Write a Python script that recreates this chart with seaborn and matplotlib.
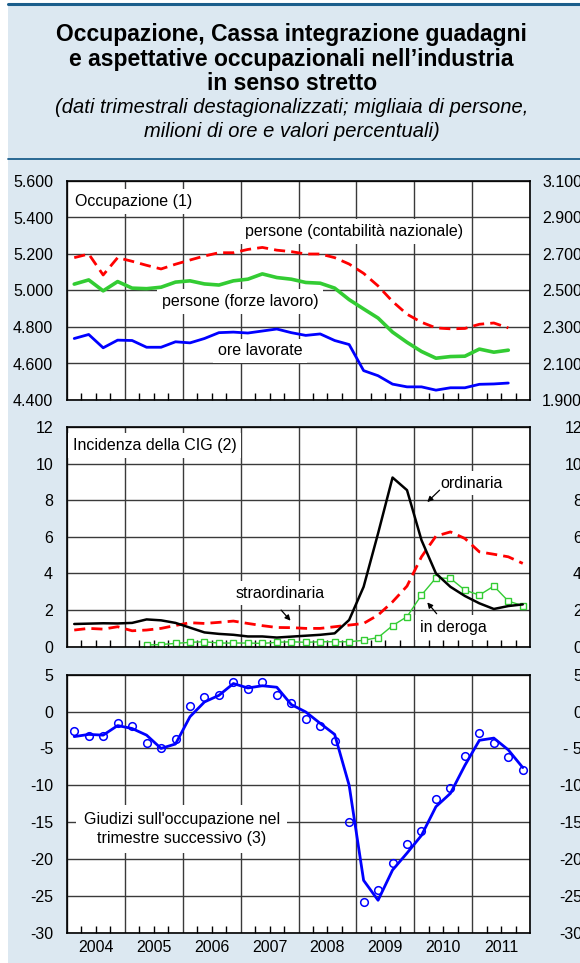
import numpy as np
import matplotlib
matplotlib.use("Agg")
import matplotlib.pyplot as plt
import matplotlib.transforms as mtransforms
from matplotlib.patches import Rectangle
from matplotlib.lines import Line2D
from matplotlib.ticker import MultipleLocator
import seaborn as sns

# quarterly data, 2004Q1 onwards
years = ['2004', '2005', '2006', '2007', '2008', '2009', '2010', '2011']

# Occupazione (2004Q1-2011Q3)
persone_cn = [5180, 5200, 5085, 5180, 5160, 5138, 5118, 5144, 5167, 5189, 5207, 5207,
              5225, 5236, 5221, 5213, 5200, 5200, 5180, 5145, 5094, 5025, 4940, 4870,
              4826, 4795, 4790, 4792, 4815, 4822, 4795]
persone_fl = [5035, 5058, 4998, 5049, 5013, 5010, 5018, 5046, 5053, 5036, 5030, 5053,
              5062, 5091, 5071, 5062, 5044, 5040, 5013, 4950, 4899, 4849, 4772, 4716,
              4666, 4629, 4638, 4640, 4679, 4662, 4673]
ore_lavorate = [2237, 2259, 2186, 2228, 2226, 2189, 2189, 2219, 2213, 2237, 2269, 2272,
                2267, 2278, 2289, 2269, 2254, 2262, 2226, 2204, 2061, 2033, 1987, 1972,
                1972, 1954, 1967, 1967, 1986, 1988, 1993]

# Incidenza della CIG (2004Q1-2011Q4)
cig_ordinaria = [1.24, 1.26, 1.28, 1.27, 1.30, 1.49, 1.44, 1.30, 1.04, 0.78, 0.70, 0.65,
                 0.56, 0.56, 0.50, 0.55, 0.60, 0.65, 0.73, 1.46, 3.27, 6.19, 9.24, 8.55,
                 5.82, 4.00, 3.27, 2.77, 2.37, 2.06, 2.22, 2.31]
cig_straord = [0.91, 1.00, 0.96, 1.09, 0.87, 0.91, 1.00, 1.16, 1.31, 1.27, 1.33, 1.40,
               1.27, 1.15, 1.05, 1.04, 1.00, 1.00, 1.09, 1.18, 1.27, 1.73, 2.45, 3.31,
               4.91, 6.04, 6.27, 5.91, 5.18, 5.05, 4.91, 4.55]
# in deroga starts 2005Q2
cig_deroga = [0.09, 0.12, 0.18, 0.24, 0.27, 0.20, 0.20, 0.20, 0.18, 0.24, 0.27, 0.24,
              0.27, 0.27, 0.27, 0.35, 0.50, 1.15, 1.64, 2.82, 3.76, 3.73, 3.09, 2.82,
              3.31, 2.49, 2.24]

# Giudizi sull'occupazione (2004Q1-2011Q4)
giudizi = [-2.6, -3.3, -3.3, -1.6, -2.0, -4.3, -5.0, -3.7, 0.7, 2.0, 2.3, 4.0,
           3.0, 4.0, 2.3, 1.1, -1.0, -2.0, -4.0, -15.0, -25.9, -24.2, -20.6, -17.9,
           -16.2, -11.9, -10.35, -6.06, -2.9, -4.2, -6.2, -7.95]
giudizi_mm = [-3.4, -3.1, -3.2, -1.9, -2.3, -3.2, -5.0, -4.4, -0.7, 1.3, 2.2, 3.8,
              3.2, 3.5, 3.3, 0.95, -0.05, -1.6, -3.1, -10.0, -22.9, -25.6, -21.5, -19.2,
              -16.8, -12.9, -11.1, -7.3, -3.9, -3.6, -5.2, -7.6]

sns.set_style("white")
plt.rcParams['font.family'] = ['Liberation Sans', 'DejaVu Sans']
plt.rcParams['text.color'] = 'black'
plt.rcParams['xtick.color'] = 'black'
plt.rcParams['ytick.color'] = 'black'
plt.rcParams['xtick.labelcolor'] = 'black'
plt.rcParams['ytick.labelcolor'] = 'black'

BG = '#dce8f1'
DARK = '#1b5e8c'
GRID = '#3a3a3a'
RED = '#ff0000'
GREEN = '#33cc33'
BLUE = '#0000ff'
FS = 11.5

W, H = 580, 963
fig = plt.figure(figsize=(W / 100, H / 100), dpi=100)
fig.patch.set_facecolor('white')
fig.patches.append(Rectangle((8 / W, 0), 1, 1 - 4 / H, transform=fig.transFigure,
                             facecolor=BG, edgecolor='none', zorder=-10))
fig.add_artist(Line2D([8 / W, 1], [1 - 4.5 / H] * 2, color=DARK, lw=2.2))
fig.add_artist(Line2D([8 / W, 1], [1 - 159 / H] * 2, color=DARK, lw=1.3))

# titles
cx = 0.503
fig.text(cx, 1 - 41.5 / H, 'Occupazione, Cassa integrazione guadagni', ha='center',
         va='baseline', fontsize=16.5, fontweight='bold')
fig.text(cx, 1 - 66 / H, 'e aspettative occupazionali nell\u2019industria', ha='center',
         va='baseline', fontsize=16.5, fontweight='bold')
fig.text(cx, 1 - 90.5 / H, 'in senso stretto', ha='center', va='baseline', fontsize=16.5,
         fontweight='bold')
fig.text(cx, 1 - 113 / H, '(dati trimestrali destagionalizzati; migliaia di persone,',
         ha='center', va='baseline', fontsize=14.5, style='italic')
fig.text(cx, 1 - 137 / H, 'milioni di ore e valori percentuali)', ha='center',
         va='baseline', fontsize=14.5, style='italic')


def make_axes(top, bottom):
    return fig.add_axes([67 / W, 1 - bottom / H, 463 / W, (bottom - top) / H])


def setup(ax, ticks, labels, rticks, rlabels):
    ax.set_facecolor('white')
    ax.set_xlim(0, 32)
    ax.set_ylim(min(ticks), max(ticks))
    ax.xaxis.set_major_locator(MultipleLocator(4))
    ax.xaxis.set_minor_locator(MultipleLocator(1))
    ax.tick_params(axis='x', which='major', length=0, labelbottom=False)
    ax.tick_params(axis='x', which='minor', direction='in', length=5, width=1,
                   color='black', bottom=True, top=False)
    ax.set_yticks(ticks, labels=labels)
    ax.tick_params(axis='y', length=0, pad=10, labelsize=FS)
    ax.grid(True, which='major', color=GRID, lw=1)
    ax.set_axisbelow(True)
    for s in ax.spines.values():
        s.set_color('black')
        s.set_linewidth(1.2)
    ax.set_xlabel('')
    ax.set_ylabel('')
    ax2 = ax.twinx()
    ax2.set_xlim(0, 32)
    ax2.set_ylim(min(rticks), max(rticks))
    ax2.set_yticks(rticks, labels=rlabels, ha='right')
    ax2.tick_params(axis='y', length=0, pad=37.5, labelsize=FS)
    for s in ax2.spines.values():
        s.set_visible(False)
    return ax2


def label(ax, x, y, s, ha='center', pad=0.3, **kw):
    ax.text(x, y, s, ha=ha, va='center', fontsize=FS, zorder=1.5,
            bbox=dict(boxstyle='square,pad=%s' % pad, facecolor='white', edgecolor='none'),
            **kw)


def arrow(ax, tail, head):
    ax.annotate('', xy=head, xytext=tail, zorder=4,
                arrowprops=dict(arrowstyle='-|>', color='black', lw=0.9,
                                mutation_scale=8, shrinkA=0, shrinkB=0))


def fmt(v):
    return '{:,}'.format(v).replace(',', '.')


# ---- panel 1: Occupazione
ax1 = make_axes(181, 400)
t1 = list(range(4400, 5601, 200))
r1 = list(range(1900, 3101, 200))
ax1r = setup(ax1, t1, [fmt(v) for v in t1], r1, [fmt(v) for v in r1])
xq = np.arange(len(persone_cn)) + 0.5
sns.lineplot(x=xq, y=persone_cn, ax=ax1, color=RED, lw=2, linestyle=(0, (4, 2.2)))
sns.lineplot(x=xq, y=persone_fl, ax=ax1, color=GREEN, lw=2.6)
sns.lineplot(x=xq, y=ore_lavorate, ax=ax1r, color=BLUE, lw=2)
label(ax1, 0.55, 5487, 'Occupazione (1)', ha='left')
label(ax1, 19.85, 5322, 'persone (contabilità nazionale)')
label(ax1, 11.95, 4940, 'persone (forze lavoro)')
label(ax1, 13.35, 4669, 'ore lavorate')

# ---- panel 2: CIG
ax2 = make_axes(427, 646.7)
t2 = list(range(0, 13, 2))
ax2r = setup(ax2, t2, [str(v) for v in t2], t2, [str(v) for v in t2])
xc = np.arange(len(cig_ordinaria)) + 0.5
xd = np.arange(len(cig_deroga)) + 5.5
sns.lineplot(x=xc, y=cig_straord, ax=ax2, color=RED, lw=2, linestyle=(0, (4, 2.2)))
sns.lineplot(x=xd, y=cig_deroga, ax=ax2, color=GREEN, lw=1, marker='s', markersize=4,
             markerfacecolor='white', markeredgecolor=GREEN, markeredgewidth=1)
sns.lineplot(x=xc, y=cig_ordinaria, ax=ax2, color='black', lw=1.8)
label(ax2, 0.4, 10.98, 'Incidenza della CIG (2)', ha='left')
label(ax2, 27.93, 8.94, 'ordinaria')
arrow(ax2, (25.75, 8.55), (24.9, 7.9))
label(ax2, 14.7, 2.93, 'straordinaria')
arrow(ax2, (14.8, 2.0), (15.45, 1.42))
label(ax2, 26.7, 1.04, 'in deroga')
arrow(ax2, (25.55, 1.8), (24.9, 2.42))

# ---- panel 3: Giudizi
ax3 = make_axes(674.7, 932.7)
t3 = list(range(-30, 6, 5))
l3 = [str(v) for v in t3]
r3 = ['- 5' if v == -5 else str(v) for v in t3]
ax3r = setup(ax3, t3, l3, t3, r3)
xg = np.arange(len(giudizi)) + 0.5
sns.lineplot(x=xg, y=giudizi_mm, ax=ax3, color=BLUE, lw=2)
sns.lineplot(x=xg, y=giudizi, ax=ax3, color=BLUE, linestyle='none', marker='o',
             markersize=5.5, markerfacecolor='none', markeredgecolor=BLUE,
             markeredgewidth=1.1)
ax3.text(7.93, -15.95, "Giudizi sull'occupazione nel\ntrimestre successivo (3)",
         ha='center', va='center', fontsize=FS, linespacing=1.35, zorder=1.5,
         bbox=dict(boxstyle='square,pad=0.45', facecolor='white', edgecolor='none'))

trans = mtransforms.blended_transform_factory(ax3.transData, ax3.transAxes)
for i, y in enumerate(years):
    ax3.text(4 * i + 2, -0.056, y, transform=trans, ha='center', va='center', fontsize=FS)

fig.savefig('out.png', dpi=100, facecolor=fig.get_facecolor())
